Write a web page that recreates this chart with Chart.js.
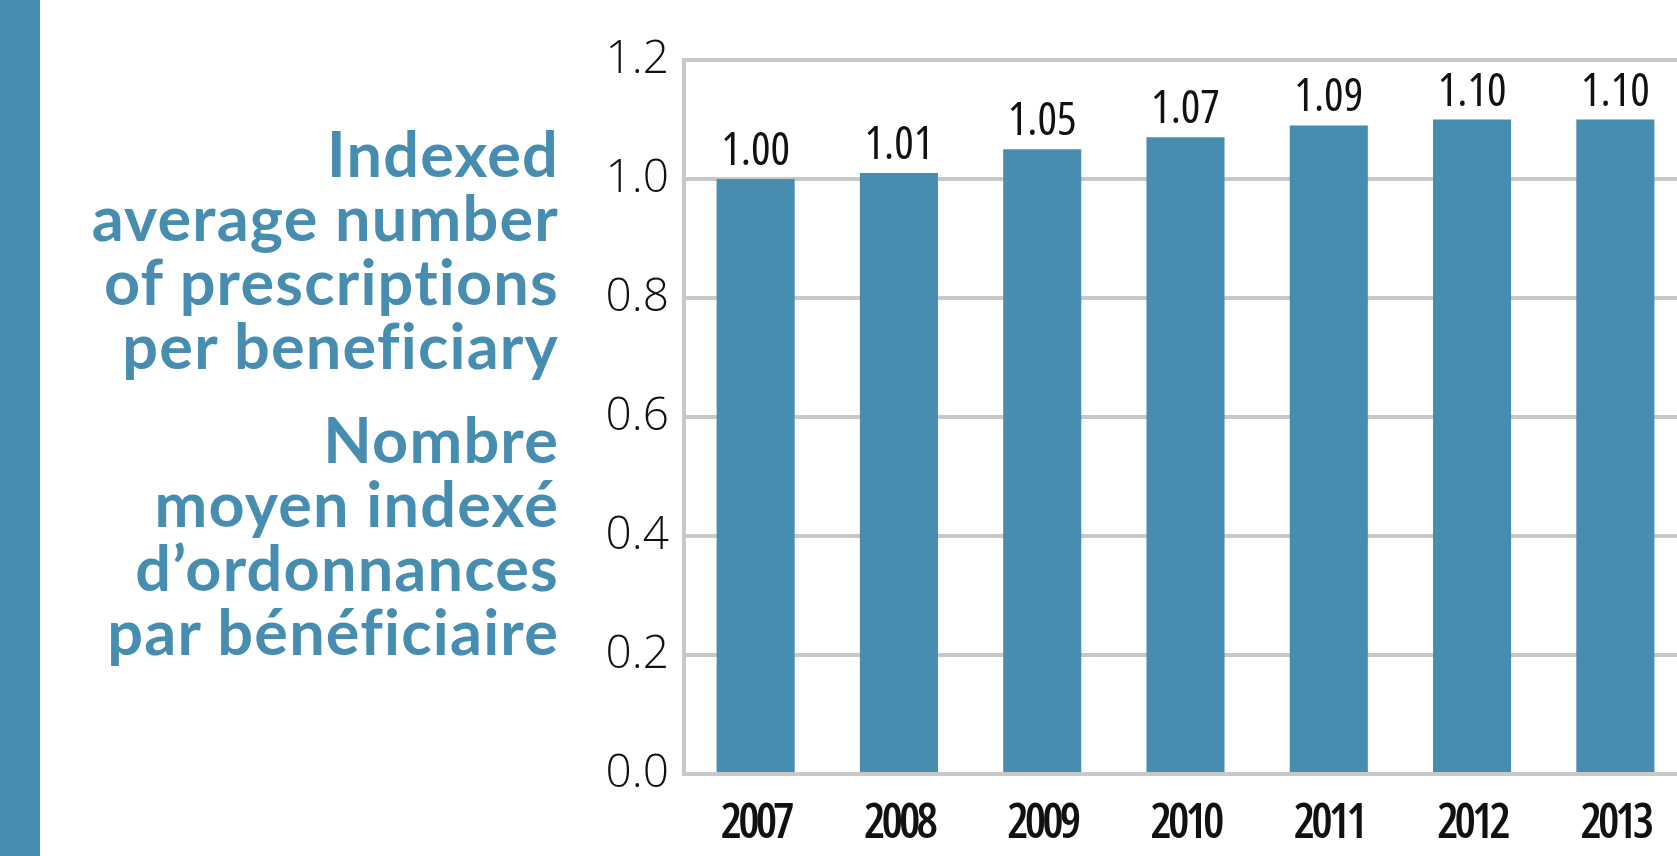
<!DOCTYPE html>
<html>
<head>
<meta charset="utf-8">
<script src="https://cdn.jsdelivr.net/npm/chart.js@4"></script>
<style>
  html, body { margin: 0; padding: 0; width: 1677px; height: 856px; overflow: hidden; background: #fff; }
  #side { position: absolute; left: 0; top: 0; width: 40px; height: 856px; background: #478db0; }
  .title { position: absolute; right: 1118px; text-align: right; color: #478db0;
           font-family: Lato, "Open Sans", sans-serif; font-weight: 700; font-size: 63px; line-height: 64px;
           letter-spacing: 1.2px; white-space: nowrap; }
  #wrap { position: absolute; left: 580px; top: 0; width: 1107px; height: 856px; }
  #c { display: block; }
</style>
</head>
<body>
<div id="side"></div>
<div class="title" id="t1" style="top:121px">Indexed<br>average number<br>of prescriptions<br>per beneficiary</div>
<div class="title" id="t2" style="top:407px">Nombre<br>moyen indexé<br>d’ordonnances<br>par bénéficiaire</div>
<div id="wrap"><canvas id="c" width="1107" height="856"></canvas></div>
<script>
const years = ["2007", "2008", "2009", "2010", "2011", "2012", "2013"];
const indexValues = [1.00, 1.01, 1.05, 1.07, 1.09, 1.10, 1.10];
const yTicks = [0, 0.2, 0.4, 0.6, 0.8, 1.0, 1.2];

const barColor = "#478db0";
const gridColor = "#c8c8c8";

const canvas = document.getElementById("c");
const ctx2d = canvas.getContext("2d");
// Year labels: condensed semibold Open Sans, slightly tightened (stretch/spacing follow the font set)
const fontDesc = Object.getOwnPropertyDescriptor(CanvasRenderingContext2D.prototype, "font");
Object.defineProperty(ctx2d, "font", {
  configurable: true,
  get() { return fontDesc.get.call(this); },
  set(v) {
    fontDesc.set.call(this, v);
    if (v.indexOf("600") >= 0 && v.indexOf("Open Sans") >= 0) {
      this.fontStretch = "condensed";
      this.letterSpacing = "-4px";
    } else {
      this.letterSpacing = "0px";
    }
  }
});

const valueLabels = {
  id: "valueLabels",
  afterDatasetsDraw(chart) {
    const ctx = chart.ctx;
    const meta = chart.getDatasetMeta(0);
    ctx.save();
    ctx.font = "400 46px 'Open Sans'";
    ctx.fontStretch = "condensed";
    ctx.fillStyle = "#111";
    ctx.textAlign = "center";
    ctx.textBaseline = "alphabetic";
    meta.data.forEach((bar, i) => {
      ctx.fillText(indexValues[i].toFixed(2), bar.x, bar.y - 14);
    });
    ctx.restore();
  }
};

new Chart(canvas, {
  type: "bar",
  data: {
    labels: years,
    datasets: [{
      data: indexValues,
      backgroundColor: barColor,
      borderWidth: 0,
      categoryPercentage: 1.0,
      barPercentage: 0.545
    }]
  },
  options: {
    responsive: false,
    animation: false,
    layout: { padding: { top: 60, right: 0, bottom: 0, left: 0 } },
    plugins: { legend: { display: false }, tooltip: { enabled: false } },
    scales: {
      x: {
        grid: { display: false, drawTicks: false },
        border: { display: true, color: gridColor, width: 4 },
        ticks: { color: "#111", font: { family: "'Open Sans'", weight: "600", size: 48 }, padding: 22 },
        afterFit(scale) { scale.height = 82; }
      },
      y: {
        min: 0, max: 1.2,
        afterBuildTicks(scale) { scale.ticks = yTicks.map(v => ({ value: v })); },
        grid: { color: gridColor, lineWidth: 4, drawTicks: false },
        border: { display: true, color: gridColor, width: 4 },
        ticks: {
          color: "#111", padding: 15,
          font: { family: "'Open Sans'", weight: "300", size: 46 },
          callback: v => Number(v).toFixed(1)
        },
        afterFit(scale) { scale.width = 104; }
      }
    }
  },
  plugins: [valueLabels]
});
</script>
</body>
</html>
